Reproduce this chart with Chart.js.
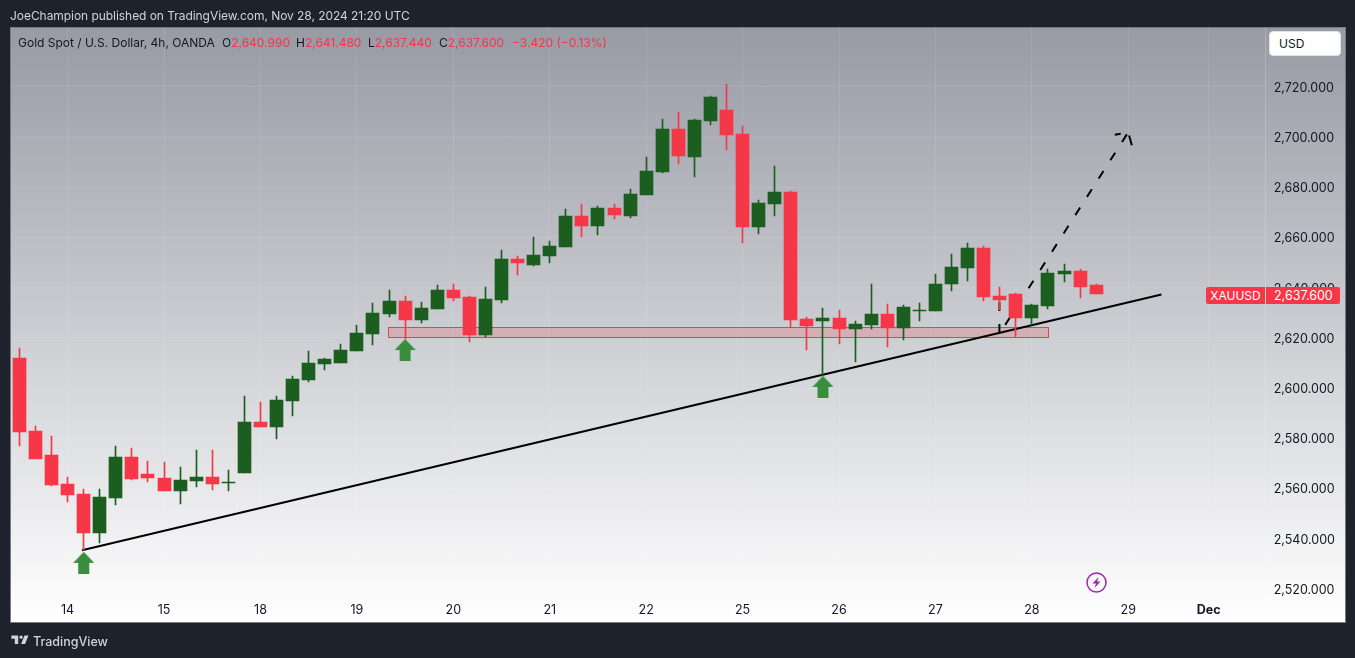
<!DOCTYPE html>
<html lang="en">
<head>
    <meta charset="UTF-8">
    <title>Gold Spot / U.S. Dollar, 4h</title>
    <script src="https://cdn.jsdelivr.net/npm/chart.js"></script>
    <style>
        body {
            margin: 0;
            width: 1355px;
            height: 658px;
            overflow: hidden;
            position: relative;
            background-color: #1e222d;
            font-family: Inter, sans-serif;
        }

        .abs {
            position: absolute;
            white-space: nowrap;
        }

        #frame {
            left: 10px;
            top: 27px;
            width: 1334px;
            height: 594px;
            border: 1px solid #777a85;
            background: linear-gradient(#989aa4, #ffffff);
        }

        #chart {
            position: absolute;
            left: 0;
            top: 0;
        }

        #byline {
            left: 10px;
            top: 8px;
            font-size: 12px;
            letter-spacing: -0.05px;
            line-height: 15px;
            color: #d1d4dc;
        }

        .legend {
            top: 35px;
            font-size: 12px;
            line-height: 15px;
            color: #131722;
        }

        .red {
            color: #f23645;
        }

        #usd {
            left: 1269px;
            top: 31px;
            width: 72px;
            height: 25px;
            box-sizing: border-box;
            padding-left: 9px;
            background: #fff;
            border: 1px solid #dfe1e8;
            border-radius: 4px;
            font-size: 12px;
            line-height: 23px;
            color: #131722;
        }

        .tag {
            top: 287px;
            height: 17px;
            line-height: 17px;
            background: #f63748;
            color: #fff;
            font-size: 12.5px;
        }

        #brand {
            left: 33px;
            top: 633px;
            font-size: 12.5px;
            line-height: 17px;
            font-weight: 500;
            color: #d1d4dc;
        }
    </style>
</head>
<body>

    <div id="frame" class="abs"></div>
    <canvas id="chart" width="1355" height="658"></canvas>

    <div id="byline" class="abs">JoeChampion published on TradingView.com, Nov 28, 2024 21:20 UTC</div>

    <div class="abs legend" style="left:18px">Gold Spot / U.S. Dollar, 4h, OANDA</div>
    <div class="abs legend" style="left:222px">O<span class="red">2,640.990</span></div>
    <div class="abs legend" style="left:296px">H<span class="red">2,641.480</span></div>
    <div class="abs legend" style="left:368px">L<span class="red">2,637.440</span></div>
    <div class="abs legend" style="left:439px">C<span class="red">2,637.600</span></div>
    <div class="abs legend red" style="left:512px">−3.420 (−0.13%)</div>

    <div id="usd" class="abs">USD</div>

    <div class="abs tag" style="left:1206px;width:59px;text-align:center;font-size:12px;border-radius:2px 0 0 2px">XAUUSD</div>
    <div class="abs tag" style="left:1266px;width:74px;padding-left:8px;box-sizing:border-box;border-radius:0 2px 2px 0">2,637.600</div>

    <svg class="abs" style="left:1086px;top:572px" width="21" height="21" viewBox="0 0 21 21">
        <circle cx="10.5" cy="10.5" r="9.5" fill="none" stroke="#9c27b0" stroke-width="1.5"/>
        <path d="M12.5 5 L6.5 11.5 H10 L8.5 16 L14.5 9.5 H11 Z" fill="#9c27b0"/>
    </svg>

    <svg class="abs" style="left:10px;top:632px" width="21" height="16" viewBox="0 0 36 28">
        <path fill="#d1d4dc" d="M14 6H2v6h6v9h6V6Zm12 15h-7l6-15h7l-6 15Zm-7-9a3 3 0 1 0 0-6 3 3 0 0 0 0 6Z"/>
    </svg>
    <div id="brand" class="abs">TradingView</div>

    <script>
        // candles, one per 4h bar
        const opens = [2612.0, 2583.0, 2573.4, 2561.8, 2557.9, 2542.3, 2556.3, 2572.6, 2565.8, 2564.2,
            2559.0, 2563.0, 2564.6, 2562.2, 2566.2, 2586.5, 2584.5, 2594.9, 2603.3, 2609.6,
            2610.0, 2614.8, 2621.6, 2629.6, 2634.7, 2627.2, 2631.6, 2639.1, 2636.3, 2621.2,
            2635.1, 2651.5, 2649.1, 2652.7, 2656.3, 2668.6, 2664.6, 2671.8, 2668.6, 2677.0,
            2686.1, 2703.3, 2692.1, 2706.5, 2710.8, 2701.3, 2664.2, 2673.4, 2678.2, 2627.6,
            2626.8, 2628.0, 2623.6, 2625.2, 2629.6, 2624.0, 2630.8, 2630.8, 2641.5, 2647.9,
            2655.9, 2636.7, 2637.5, 2628.0, 2632.8, 2645.5, 2646.7, 2640.99];
        const highs = [2616.0, 2585.0, 2581.0, 2564.6, 2559.8, 2559.8, 2577.0, 2576.2, 2571.0, 2570.6,
            2568.6, 2575.4, 2575.4, 2567.4, 2596.9, 2594.5, 2596.9, 2604.9, 2614.8, 2612.0,
            2617.6, 2625.2, 2634.0, 2639.1, 2636.7, 2634.3, 2641.1, 2641.5, 2636.7, 2640.3,
            2655.1, 2652.7, 2660.2, 2658.6, 2671.4, 2673.4, 2672.6, 2673.4, 2679.4, 2692.1,
            2707.3, 2710.0, 2707.3, 2716.4, 2721.2, 2704.5, 2675.0, 2688.5, 2678.6, 2628.4,
            2632.0, 2631.2, 2626.8, 2641.5, 2633.5, 2633.1, 2634.0, 2645.5, 2653.5, 2657.8,
            2656.7, 2640.3, 2638.0, 2633.5, 2647.5, 2649.5, 2647.5, 2641.48];
        const lows = [2577.0, 2571.8, 2561.0, 2554.7, 2535.5, 2538.3, 2553.5, 2563.4, 2562.6, 2559.0,
            2553.9, 2560.6, 2559.4, 2559.0, 2566.2, 2584.5, 2579.8, 2589.0, 2602.5, 2607.3,
            2610.0, 2614.8, 2617.2, 2628.4, 2619.6, 2626.0, 2631.6, 2634.7, 2618.4, 2620.4,
            2634.0, 2645.1, 2648.7, 2649.9, 2656.3, 2660.2, 2661.0, 2667.4, 2667.8, 2677.0,
            2685.7, 2689.3, 2684.1, 2704.9, 2694.9, 2657.8, 2661.4, 2668.6, 2624.4, 2615.2,
            2604.9, 2617.6, 2610.4, 2623.6, 2616.4, 2619.2, 2626.8, 2630.8, 2638.7, 2642.7,
            2634.7, 2631.2, 2620.4, 2625.2, 2631.6, 2642.3, 2636.0, 2637.44];
        const closes = [2582.6, 2571.8, 2561.4, 2557.5, 2542.3, 2556.7, 2572.6, 2563.8, 2564.2, 2559.0,
            2563.4, 2564.6, 2561.8, 2562.6, 2586.5, 2584.5, 2595.3, 2603.7, 2610.0, 2611.6,
            2615.2, 2622.0, 2630.0, 2634.7, 2627.2, 2632.0, 2639.1, 2636.0, 2621.2, 2635.5,
            2651.5, 2649.9, 2653.1, 2656.7, 2668.6, 2664.6, 2671.8, 2669.0, 2677.4, 2686.5,
            2703.3, 2692.5, 2706.9, 2716.0, 2700.9, 2664.2, 2673.8, 2678.2, 2627.2, 2624.8,
            2628.0, 2623.6, 2625.6, 2629.6, 2624.0, 2632.4, 2631.2, 2641.5, 2648.3, 2655.9,
            2636.3, 2635.1, 2628.0, 2633.1, 2645.9, 2646.7, 2640.3, 2637.6];

        // axes
        const xTickIndex = [3, 9, 15, 21, 27, 33, 39, 45, 51, 57, 63, 69, 74];
        const xTickLabels = ['14', '15', '18', '19', '20', '21', '22', '25', '26', '27', '28', '29', 'Dec'];
        const yTicks = [2520, 2540, 2560, 2580, 2600, 2620, 2640, 2660, 2680, 2700, 2720];

        // drawings on the chart, x is in bars
        const trendX = [3.895, 71.06];
        const trendY = [2535.4, 2637.3];
        const forecastX = [60.98, 69.0];
        const forecastY = [2621.6, 2702.0];
        const startDashX = [60.98, 60.98];
        const startDashY = [2622.0, 2634.7];
        const headLeftX = [68.16, 68.53];
        const headLeftY = [2701.0, 2701.4];
        const headRightX = [69.05, 69.22];
        const headRightY = [2700.7, 2696.8];
        const arrowX = [4, 24, 50];
        const arrowY = [2530.4, 2615.2, 2600.5];
        const zoneX = [22.97, 64.04];
        const zoneY = [2620.2, 2624.2];

        const RED = '#f63748';
        const GREEN = '#1b5e20';
        const candleColors = closes.map((c, i) => c < opens[i] ? RED : GREEN);

        function points(xs, ys) {
            return xs.map((x, i) => ({ x: x, y: ys[i] }));
        }

        function drawingLine(xs, ys, extra) {
            return Object.assign({
                type: 'line',
                data: points(xs, ys),
                borderColor: '#000',
                borderWidth: 2,
                pointRadius: 0,
                order: 5
            }, extra);
        }

        // green up arrow used as point style
        function makeArrow() {
            const c = document.createElement('canvas');
            c.width = 21;
            c.height = 22;
            const g = c.getContext('2d');
            g.fillStyle = '#388e3c';
            g.beginPath();
            g.moveTo(10.5, 0);
            g.lineTo(21, 11);
            g.lineTo(16, 11);
            g.lineTo(16, 22);
            g.lineTo(5, 22);
            g.lineTo(5, 11);
            g.lineTo(0, 11);
            g.closePath();
            g.fill();
            return c;
        }

        // snap the bars to whole pixels so the wicks stay sharp
        const snapBars = {
            id: 'snapBars',
            afterDatasetsUpdate(chart) {
                chart.getSortedVisibleDatasetMetas().forEach(meta => {
                    if (meta.type !== 'bar') return;
                    meta.data.forEach(el => {
                        el.x = Math.floor(el.x) + 0.5;
                        el.y = Math.round(el.y);
                        el.base = Math.round(el.base);
                        if (el.y === el.base) el.y -= 1;
                    });
                });
            }
        };

        // support zone rectangle, under the candles
        const zoneBox = {
            id: 'zoneBox',
            beforeDatasetsDraw(chart) {
                const { ctx, scales } = chart;
                const left = Math.floor(scales.x.getPixelForValue(zoneX[0])) + 0.5;
                const right = Math.floor(scales.x.getPixelForValue(zoneX[1])) + 0.5;
                const top = Math.floor(scales.y.getPixelForValue(zoneY[1])) + 0.5;
                const bottom = Math.floor(scales.y.getPixelForValue(zoneY[0])) + 0.5;
                ctx.save();
                ctx.fillStyle = 'rgba(242, 54, 69, 0.2)';
                ctx.strokeStyle = '#e8404f';
                ctx.lineWidth = 1;
                ctx.fillRect(left, top, right - left, bottom - top);
                ctx.strokeRect(left, top, right - left, bottom - top);
                ctx.restore();
            }
        };

        new Chart(document.getElementById('chart').getContext('2d'), {
            type: 'bar',
            data: {
                datasets: [
                    {
                        label: 'body',
                        data: opens.map((o, i) => ({ x: i, y: [o, closes[i]] })),
                        backgroundColor: candleColors,
                        barThickness: 13,
                        grouped: false,
                        order: 1
                    },
                    {
                        label: 'wick',
                        data: lows.map((l, i) => ({ x: i, y: [l, highs[i]] })),
                        backgroundColor: candleColors,
                        barThickness: 1,
                        grouped: false,
                        order: 2
                    },
                    drawingLine(trendX, trendY, { label: 'trend' }),
                    drawingLine(forecastX, forecastY, { label: 'forecast', borderDash: [9, 12.7], borderDashOffset: 10.9 }),
                    drawingLine(startDashX, startDashY, { label: 'start', borderDash: [9, 13] }),
                    drawingLine(headLeftX, headLeftY, { label: 'head left' }),
                    drawingLine(headRightX, headRightY, { label: 'head right' }),
                    {
                        type: 'line',
                        label: 'arrows',
                        data: points(arrowX, arrowY),
                        showLine: false,
                        pointStyle: makeArrow(),
                        pointRadius: 10,
                        order: 4
                    }
                ]
            },
            options: {
                responsive: false,
                animation: false,
                events: [],
                layout: { padding: { left: 11, top: 27, right: 0, bottom: 0 } },
                plugins: {
                    legend: { display: false },
                    tooltip: { enabled: false }
                },
                scales: {
                    x: {
                        type: 'linear',
                        offset: false,
                        min: -0.523,
                        max: 77.55,
                        grid: { color: 'rgba(255, 255, 255, 0.1)', drawTicks: false, offset: false },
                        border: { display: false },
                        afterBuildTicks(scale) {
                            scale.ticks = xTickIndex.map(v => ({ value: v }));
                        },
                        afterFit(scale) {
                            scale.height = 62;
                        },
                        ticks: {
                            autoSkip: false,
                            maxRotation: 0,
                            padding: 7,
                            color: '#131722',
                            font: ctx => ({
                                family: 'Inter',
                                size: 12.5,
                                weight: xTickLabels[ctx.index] === 'Dec' ? '700' : '400'
                            }),
                            callback(value) {
                                return xTickLabels[xTickIndex.indexOf(value)];
                            }
                        }
                    },
                    y: {
                        position: 'right',
                        min: 2517.2,
                        max: 2743.9,
                        grid: { color: 'rgba(255, 255, 255, 0.1)', drawTicks: false },
                        border: { color: 'rgba(255, 255, 255, 0.2)' },
                        afterBuildTicks(scale) {
                            scale.ticks = yTicks.map(v => ({ value: v }));
                        },
                        afterFit(scale) {
                            scale.width = 89.3;
                        },
                        ticks: {
                            padding: 8,
                            labelOffset: 1,
                            color: '#131722',
                            font: { family: 'Inter', size: 12.5 },
                            callback(value) {
                                return value.toLocaleString('en-US', { minimumFractionDigits: 3 });
                            }
                        }
                    }
                }
            },
            plugins: [snapBars, zoneBox]
        });
    </script>

</body>
</html>
